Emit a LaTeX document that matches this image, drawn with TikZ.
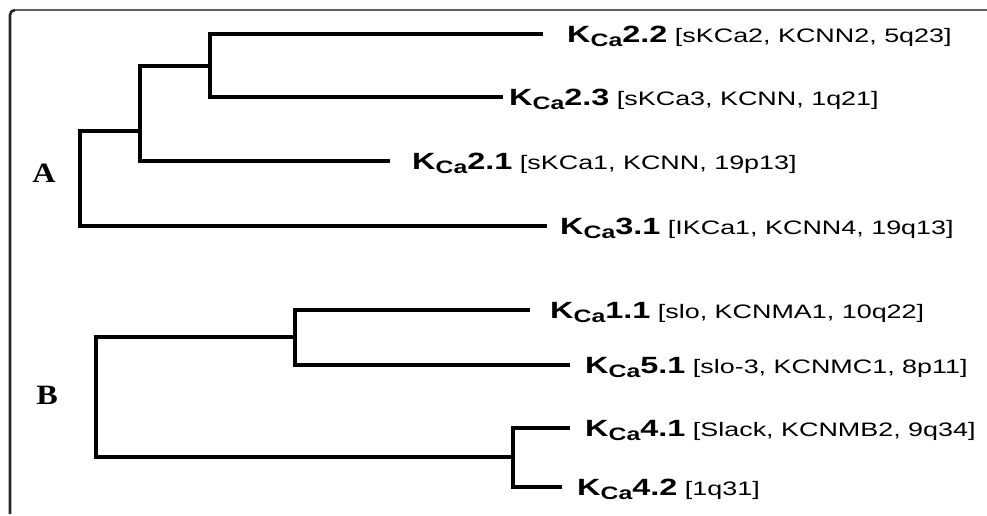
\documentclass[tikz,border=0pt]{standalone}
\usepackage{fontspec}
\newfontfamily\lblfont[FakeStretch=1.38]{Liberation Sans}
\newfontfamily\grpfont[FakeStretch=1.15]{Liberation Serif}
% channel label: bold K_Ca name followed by the bracketed aliases
\newcommand\kcalabel[2]{{\bfseries\fontsize{23.5}{23.5}\selectfont K\raisebox{-4pt}{\fontsize{18}{18}\selectfont Ca}#1}{\fontsize{19.5}{19.5}\selectfont\ [#2]}}
\begin{document}
\begin{tikzpicture}[x=1pt,y=-1pt,
  branch/.style={line width=3.4pt,line join=miter},
  leaf/.style={anchor=base west,inner sep=0pt,font=\lblfont},
  group/.style={anchor=base,inner sep=0pt,font=\grpfont\bfseries\fontsize{28}{28}\selectfont}]
\useasboundingbox (0,0) rectangle (987,515);
\fill[white] (0,0) rectangle (987,515);
% frame: grey top edge, darker left edge, small rounded corner
\draw[line width=2.6pt,color=black!62] (987,10) -- (15,10);
\draw[line width=2.6pt,color=black!85] (15,10) arc[start angle=270,end angle=180,radius=5] -- (10,514);

% ---- group A ----
\coordinate (t22) at (543,34);
\coordinate (t23) at (503,97);
\coordinate (t21) at (390,161);
\coordinate (t31) at (547,226);
\coordinate (a3) at (210,66);
\coordinate (a2) at (140,131);
\coordinate (a1) at (80,178);
\draw[branch] (t22) -| (a3) |- (t23);
\draw[branch] (a3) -| (a2) |- (t21);
\draw[branch] (a2) -| (a1) |- (t31);

\node[leaf] (n22) at (567,42)  {\kcalabel{2.2}{sKCa2, KCNN2, 5q23}};
\node[leaf] (n23) at (509,105) {\kcalabel{2.3}{sKCa3, KCNN, 1q21}};
\node[leaf] (n21) at (412,169) {\kcalabel{2.1}{sKCa1, KCNN, 19p13}};
\node[leaf] (n31) at (560,234) {\kcalabel{3.1}{IKCa1, KCNN4, 19q13}};
\node[group] (gA) at (44,182) {A};

% ---- group B ----
\coordinate (t11) at (530,310);
\coordinate (t51) at (570,365);
\coordinate (t41) at (570,428);
\coordinate (t42) at (562,487);
\coordinate (b2) at (295,337);
\coordinate (b3) at (513,457);
\coordinate (b1) at (96,397);
\draw[branch] (t11) -| (b2) |- (t51);
\draw[branch] (t41) -| (b3) |- (t42);
\draw[branch] (b2) -| (b1) |- (b3);

\node[leaf] (n11) at (550,318) {\kcalabel{1.1}{slo, KCNMA1, 10q22}};
\node[leaf] (n51) at (585,373) {\kcalabel{5.1}{slo-3, KCNMC1, 8p11}};
\node[leaf] (n41) at (585,436) {\kcalabel{4.1}{Slack, KCNMB2, 9q34}};
\node[leaf] (n42) at (577,495) {\kcalabel{4.2}{1q31}};
\node[group] (gB) at (47,404) {B};
\end{tikzpicture}
\end{document}
